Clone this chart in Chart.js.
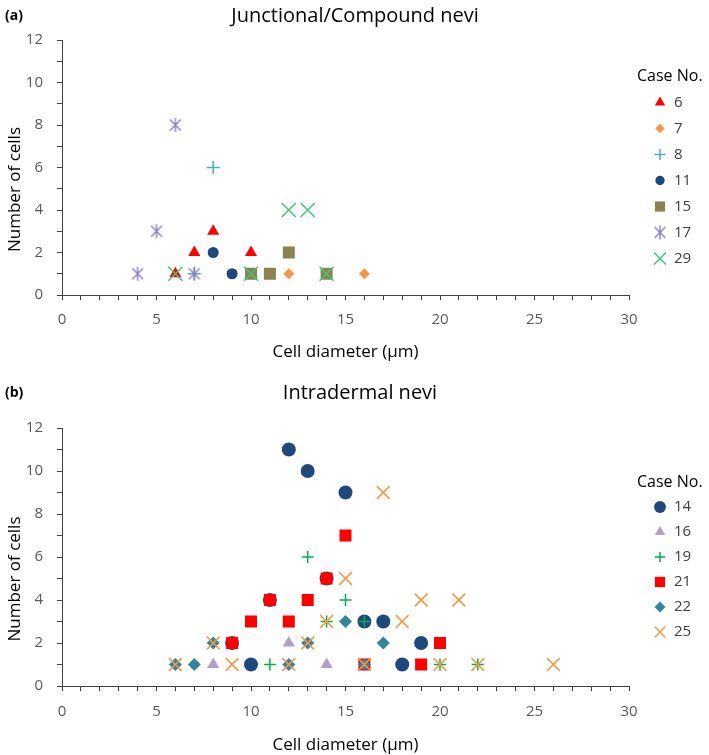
<!DOCTYPE html>
<html>
<head>
<meta charset="utf-8">
<script src="https://cdn.jsdelivr.net/npm/chart.js@4.4.1/dist/chart.umd.min.js"></script>
<style>
  body { margin: 0; background: #fff; }
  .panel { position: absolute; left: 0; width: 709px; }
</style>
</head>
<body>
<div class="panel" style="top:0;height:380px"><canvas id="chartA"></canvas></div>
<div class="panel" style="top:370px;height:385px"><canvas id="chartB"></canvas></div>
<script>
//--------------------------------------------Data

// (a) Junctional/Compound nevi
const casesA = ['6', '7', '8', '11', '15', '17', '29'];
const a6x = [6, 7, 8, 10],        a6y = [1, 2, 3, 2];
const a7x = [12, 16],             a7y = [1, 1];
const a8x = [7, 8],               a8y = [1, 6];
const a11x = [8, 9],              a11y = [2, 1];
const a15x = [10, 11, 12, 14],    a15y = [1, 1, 2, 1];
const a17x = [4, 5, 6, 7],        a17y = [1, 3, 8, 1];
const a29x = [6, 10, 12, 13, 14], a29y = [1, 1, 4, 4, 1];

// (b) Intradermal nevi
const casesB = ['14', '16', '19', '21', '22', '25'];
const b14x = [9, 10, 11, 12, 13, 14, 15, 16, 17, 18, 19];
const b14y = [2, 1, 4, 11, 10, 5, 9, 3, 3, 1, 2];
const b16x = [8, 12, 14];
const b16y = [1, 2, 1];
const b19x = [11, 13, 14, 15, 16, 20, 22];
const b19y = [1, 6, 3, 4, 3, 1, 1];
const b21x = [9, 10, 11, 12, 13, 14, 15, 16, 19, 20];
const b21y = [2, 3, 4, 3, 4, 5, 7, 1, 1, 2];
const b22x = [6, 7, 8, 12, 13, 15, 16, 17];
const b22y = [1, 1, 2, 1, 2, 3, 1, 2];
const b25x = [6, 8, 9, 12, 13, 14, 15, 16, 17, 18, 19, 20, 21, 22, 26];
const b25y = [1, 2, 1, 1, 2, 3, 5, 1, 9, 3, 4, 1, 4, 1, 1];

const xTicks = [0, 5, 10, 15, 20, 25, 30];
const yTicks = [0, 2, 4, 6, 8, 10, 12];

//--------------------------------------------Styles

// excel style asterisk: vertical bar + X
function asterisk(color, r) {
    const c = document.createElement('canvas');
    const s = Math.ceil(2 * r + 4);
    c.width = s; c.height = s;
    const g = c.getContext('2d');
    const m = s / 2, d = r * 0.78;
    g.strokeStyle = color;
    g.lineWidth = 1.4;
    g.beginPath();
    g.moveTo(m, m - r); g.lineTo(m, m + r);
    g.moveTo(m - d, m - d); g.lineTo(m + d, m + d);
    g.moveTo(m - d, m + d); g.lineTo(m + d, m - d);
    g.stroke();
    return c;
}

const stylesA = [
    { shape: 'triangle', color: '#FF0000', r: 7 },
    { shape: 'rectRot',  color: '#F79646', r: 5.5 },
    { shape: 'cross',    color: '#4BACC6', r: 6.5 },
    { shape: 'circle',   color: '#1F497D', r: 5.5 },
    { shape: 'rect',     color: '#8C8150', r: 8.5 },
    { shape: asterisk('#8E7CC3', 7), color: '#8E7CC3', r: 7 },
    { shape: 'crossRot', color: '#3DC878', r: 10 },
];
const stylesB = [
    { shape: 'circle',   color: '#1F497D', r: 7 },
    { shape: 'triangle', color: '#B1A0C7', r: 7 },
    { shape: 'cross',    color: '#00B050', r: 6 },
    { shape: 'rect',     color: '#FF0000', r: 8.5 },
    { shape: 'rectRot',  color: '#31859C', r: 6.5 },
    { shape: 'crossRot', color: '#F79646', r: 9 },
];

const FONT = '"Open Sans", sans-serif';
Chart.defaults.font.family = FONT;

//--------------------------------------------Functions

function toPoints(xs, ys) {
    return xs.map((x, i) => ({ x: x, y: ys[i] }));
}

function buildDatasets(cases, series, styles) {
    return cases.map((name, i) => {
        const st = styles[i];
        const lineShape = ['cross', 'crossRot', 'star'].includes(st.shape);
        return {
            label: name,
            data: toPoints(series[i][0], series[i][1]),
            pointStyle: st.shape,
            pointRadius: st.r,
            pointBackgroundColor: st.color,
            pointBorderColor: st.color,
            pointBorderWidth: lineShape ? 1.5 : 0,
            order: -i,
        };
    });
}

// titles, y axis title and legend
const decor = {
    id: 'decor',
    afterDraw(chart, args, o) {
        const ctx = chart.ctx;
        const area = chart.chartArea;
        ctx.save();
        ctx.textBaseline = 'middle';
        ctx.fillStyle = '#000';

        ctx.textAlign = 'left';
        ctx.font = 'bold 14px ' + FONT;
        ctx.fillText(o.letter, o.letterX, o.titleY);

        ctx.textAlign = 'center';
        ctx.font = '20px ' + FONT;
        ctx.fillText(o.title, o.titleX, o.titleY);

        ctx.save();
        ctx.translate(o.yTitleX, (area.top + area.bottom) / 2 + o.yTitleShift);
        ctx.rotate(-Math.PI / 2);
        ctx.font = '17px ' + FONT;
        ctx.fillText('Number of cells', 0, 0);
        ctx.restore();

        const sets = chart.data.datasets;
        let y = (area.top + area.bottom) / 2 - sets.length * o.legendStep / 2;
        ctx.textAlign = 'left';
        ctx.font = '16px ' + FONT;
        ctx.fillText('Case No.', o.legendTitleX, y);
        ctx.font = '15px ' + FONT;
        sets.forEach(ds => {
            y += o.legendStep;
            ctx.fillStyle = ds.pointBackgroundColor;
            ctx.strokeStyle = ds.pointBorderColor;
            ctx.lineWidth = ds.pointBorderWidth;
            Chart.helpers.drawPoint(ctx, {
                pointStyle: ds.pointStyle,
                radius: ds.pointRadius * 0.85,
                borderWidth: ds.pointBorderWidth,
                rotation: 0,
            }, o.legendMarkerX, y);
            ctx.fillStyle = '#404040';
            ctx.fillText(ds.label, o.legendLabelX, y);
        });
        ctx.restore();
    }
};

function makeConfig(datasets, lay) {
    return {
        type: 'scatter',
        data: { datasets: datasets },
        plugins: [decor],
        options: {
            responsive: true,
            maintainAspectRatio: false,
            animation: false,
            events: [],
            layout: { padding: { left: 0, right: 80, top: lay.top, bottom: lay.bottom } },
            plugins: {
                legend: { display: false },
                tooltip: { enabled: false },
                decor: lay.decor,
            },
            scales: {
                x: {
                    type: 'linear',
                    min: 0,
                    max: 30,
                    afterFit(s) { s.height = lay.xHeight; },
                    ticks: {
                        stepSize: 1,
                        autoSkip: false,
                        maxRotation: 0,
                        padding: lay.xPad,
                        color: '#595959',
                        font: { size: 15 },
                        callback: v => xTicks.includes(v) ? v : '',
                    },
                    grid: { drawOnChartArea: false, tickLength: 5, color: '#404040' },
                    border: { color: '#404040' },
                    title: {
                        display: true,
                        text: 'Cell diameter (µm)',
                        color: '#000',
                        font: { size: 17 },
                        padding: { top: 0, bottom: lay.xTitlePad },
                    },
                },
                y: {
                    min: 0,
                    max: 12,
                    afterFit(s) { s.width = 62; },
                    ticks: {
                        stepSize: 1,
                        autoSkip: false,
                        padding: 14,
                        color: '#595959',
                        font: { size: 15 },
                        callback: v => yTicks.includes(v) ? v : '',
                    },
                    grid: { drawOnChartArea: false, tickLength: 5, color: '#404040' },
                    border: { color: '#404040' },
                },
            },
        },
    };
}

//--------------------------------------------Charts

const seriesA = [[a6x, a6y], [a7x, a7y], [a8x, a8y], [a11x, a11y], [a15x, a15y], [a17x, a17y], [a29x, a29y]];
const seriesB = [[b14x, b14y], [b16x, b16y], [b19x, b19y], [b21x, b21y], [b22x, b22y], [b25x, b25y]];

new Chart(document.getElementById('chartA'), makeConfig(buildDatasets(casesA, seriesA, stylesA), {
    top: 40, bottom: 10, xHeight: 75, xPad: 11, xTitlePad: 8,
    decor: {
        letter: '(a)', letterX: 5, title: 'Junctional/Compound nevi', titleX: 355, titleY: 16,
        yTitleX: 15, yTitleShift: 22,
        legendStep: 26, legendTitleX: 637, legendMarkerX: 660, legendLabelX: 674,
    },
}));

new Chart(document.getElementById('chartB'), makeConfig(buildDatasets(casesB, seriesB, stylesB), {
    top: 58, bottom: 0, xHeight: 69, xPad: 12, xTitlePad: 0,
    decor: {
        letter: '(b)', letterX: 5, title: 'Intradermal nevi', titleX: 360, titleY: 23,
        yTitleX: 15, yTitleShift: 22,
        legendStep: 25, legendTitleX: 637, legendMarkerX: 660, legendLabelX: 674,
    },
}));
</script>
</body>
</html>
